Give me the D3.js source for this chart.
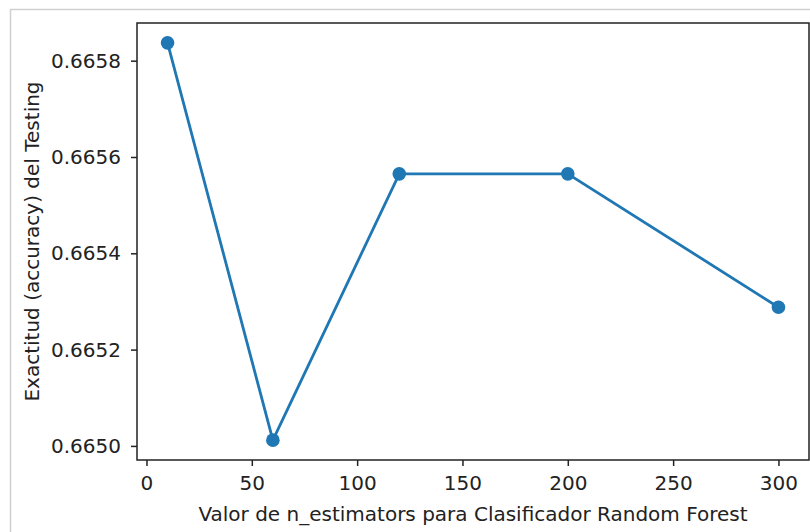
<!DOCTYPE html>
<html>
<head>
<meta charset="utf-8">
<script src="https://cdn.jsdelivr.net/npm/d3@7"></script>
<style>
    body { margin: 0; background: #fff; }
    svg text { font-family: "DejaVu Sans", sans-serif; fill: #222; }
</style>
</head>
<body>
<div id="chart"></div>
<script>
// n_estimators values and testing accuracy
const nEstimators = [10, 60, 120, 200, 300];
const accuracy = [0.665837, 0.665012, 0.665565, 0.665565, 0.665288];
const xTicks = [0, 50, 100, 150, 200, 250, 300];
const yTicks = [0.6650, 0.6652, 0.6654, 0.6656, 0.6658];

const xLabel = 'Valor de n_estimators para Clasificador Random Forest';
const yLabel = 'Exactitud (accuracy) del Testing';

const W = 810, H = 532;
const plot = { left: 137, right: 809, top: 23, bottom: 460 };
const fontSize = 20;

const svg = d3.select('#chart')
    .append('svg')
    .attr('width', W)
    .attr('height', H);

// notebook output frame
svg.append('rect')
    .attr('x', 10.5)
    .attr('y', 9.5)
    .attr('width', W + 10)
    .attr('height', H + 10)
    .attr('fill', 'none')
    .attr('stroke', '#d0d0d0')
    .attr('stroke-width', 1.5);

// 5% margins like matplotlib
const pad = (lo, hi) => [lo - (hi - lo) * 0.05, hi + (hi - lo) * 0.05];
const xScale = d3.scaleLinear()
    .domain(pad(d3.min(nEstimators), d3.max(nEstimators)))
    .range([plot.left, plot.right]);
const yScale = d3.scaleLinear()
    .domain(pad(d3.min(accuracy), d3.max(accuracy)))
    .range([plot.bottom, plot.top]);

// axes
const xAxis = svg.append('g')
    .attr('transform', `translate(0,${plot.bottom})`)
    .call(d3.axisBottom(xScale).tickValues(xTicks).tickSize(6).tickPadding(10).tickFormat(d3.format('d')));
const yAxis = svg.append('g')
    .attr('transform', `translate(${plot.left},0)`)
    .call(d3.axisLeft(yScale).tickValues(yTicks).tickSize(6).tickPadding(10).tickFormat(d3.format('.4f')));

[xAxis, yAxis].forEach(ax => {
    ax.select('.domain').remove();
    ax.selectAll('.tick line').attr('stroke', '#222').attr('stroke-width', 1.5);
    ax.selectAll('.tick text')
        .style('font-size', fontSize + 'px')
        .style('font-family', '"DejaVu Sans", sans-serif')
        .attr('fill', '#222');
});

// spines
svg.append('rect')
    .attr('x', plot.left)
    .attr('y', plot.top)
    .attr('width', plot.right - plot.left)
    .attr('height', plot.bottom - plot.top)
    .attr('fill', 'none')
    .attr('stroke', '#222')
    .attr('stroke-width', 1.5);

// axis labels
svg.append('text')
    .attr('x', (plot.left + plot.right) / 2)
    .attr('y', 521)
    .attr('text-anchor', 'middle')
    .style('font-size', fontSize + 'px')
    .text(xLabel);

svg.append('text')
    .attr('transform', 'rotate(-90)')
    .attr('x', -(plot.top + plot.bottom) / 2)
    .attr('y', 39)
    .attr('text-anchor', 'middle')
    .style('font-size', fontSize + 'px')
    .text(yLabel);

// line and markers
const points = nEstimators.map((n, i) => ({ n, acc: accuracy[i] }));

svg.append('path')
    .datum(points)
    .attr('fill', 'none')
    .attr('stroke', '#1f77b4')
    .attr('stroke-width', 2.8)
    .attr('d', d3.line().x(d => xScale(d.n)).y(d => yScale(d.acc)));

svg.selectAll('.marker')
    .data(points)
    .enter()
    .append('circle')
    .attr('class', 'marker')
    .attr('cx', d => xScale(d.n))
    .attr('cy', d => yScale(d.acc))
    .attr('r', 6.8)
    .attr('fill', '#1f77b4');
</script>
</body>
</html>
